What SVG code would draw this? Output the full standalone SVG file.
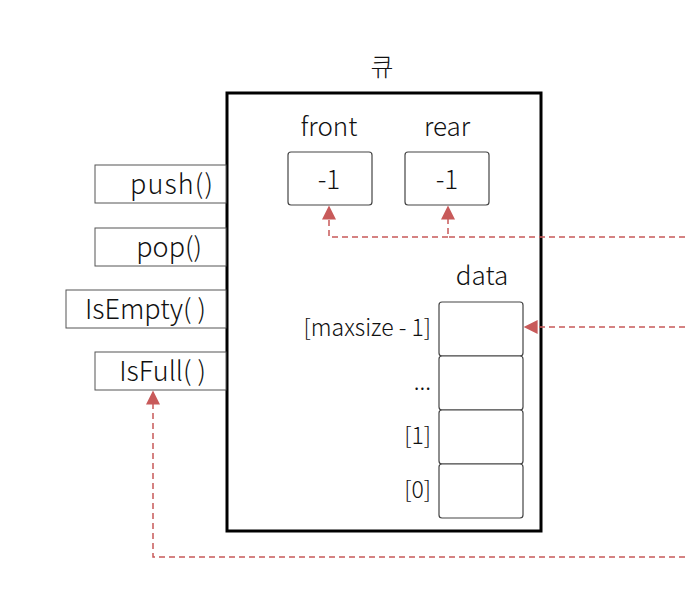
<svg xmlns="http://www.w3.org/2000/svg" width="685" height="594" viewBox="0 0 685 594">
<defs>
<style>
text{font-family:"Noto Sans CJK KR","Noto Sans",sans-serif;font-size:26px;font-weight:300;fill:#111}
.m{fill:#fff;stroke:#555;stroke-width:1}
.c{fill:#fff;stroke:#444;stroke-width:1.2}
.e{text-anchor:end}
.mid{text-anchor:middle}
.ml{font-size:27px}
.ix{font-size:23px}
.d{fill:none;stroke:#c85a5a;stroke-width:1.5;stroke-dasharray:6 4}
</style>
<marker id="ah" viewBox="0 0 10 10" refX="9" refY="5" markerWidth="15" markerHeight="14" markerUnits="userSpaceOnUse" orient="auto">
<path d="M0,0 L10,5 L0,10 z" fill="#c85a5a"/>
</marker>
</defs>
<rect width="685" height="594" fill="#fff"/>
<g id="queue">
<text class="mid" x="382" y="76" style="font-size:25px">큐</text>
<rect x="227" y="93" width="314" height="438" fill="#fff" stroke="#000" stroke-width="3"/>
</g>
<g id="push"><rect class="m" x="95" y="165" width="131" height="38"/><text class="ml" x="130" y="194" textLength="83" lengthAdjust="spacing">push()</text></g>
<g id="pop"><rect class="m" x="95" y="228" width="131" height="38"/><text class="e ml" x="202" y="257">pop()</text></g>
<g id="isempty"><rect class="m" x="66" y="290" width="160" height="38"/><text class="e ml" x="206" y="319">IsEmpty( )</text></g>
<g id="isfull"><rect class="m" x="95" y="352" width="131" height="38"/><text class="e ml" x="206" y="381">IsFull( )</text></g>
<g id="front"><text class="mid" x="329" y="136">front</text><rect class="c" x="288" y="152" width="84" height="53" rx="3"/><text class="mid" x="329" y="189">-1</text></g>
<g id="rear"><text class="mid" x="447" y="136">rear</text><rect class="c" x="405" y="152" width="84" height="53" rx="3"/><text class="mid" x="447" y="189">-1</text></g>
<g id="data">
<text class="mid" x="482" y="285">data</text>
<rect class="c" x="439" y="302" width="84" height="54" rx="3"/>
<rect class="c" x="439" y="356" width="84" height="54" rx="3"/>
<rect class="c" x="439" y="410" width="84" height="54" rx="3"/>
<rect class="c" x="439" y="464" width="84" height="54" rx="3"/>
<text class="e ix" x="431" y="336">[maxsize - 1]</text>
<text class="e ix" x="431" y="390">...</text>
<text class="e ix" x="431" y="444">[1]</text>
<text class="e ix" x="431" y="498">[0]</text>
</g>
<g id="connectors">
<path class="d" d="M685,237 H448 V207" marker-end="url(#ah)"/>
<path class="d" d="M448,237 H329 V207" marker-end="url(#ah)"/>
<path class="d" d="M685,327 H525" marker-end="url(#ah)"/>
<path class="d" d="M685,557 H153 V392" marker-end="url(#ah)"/>
</g>
</svg>
